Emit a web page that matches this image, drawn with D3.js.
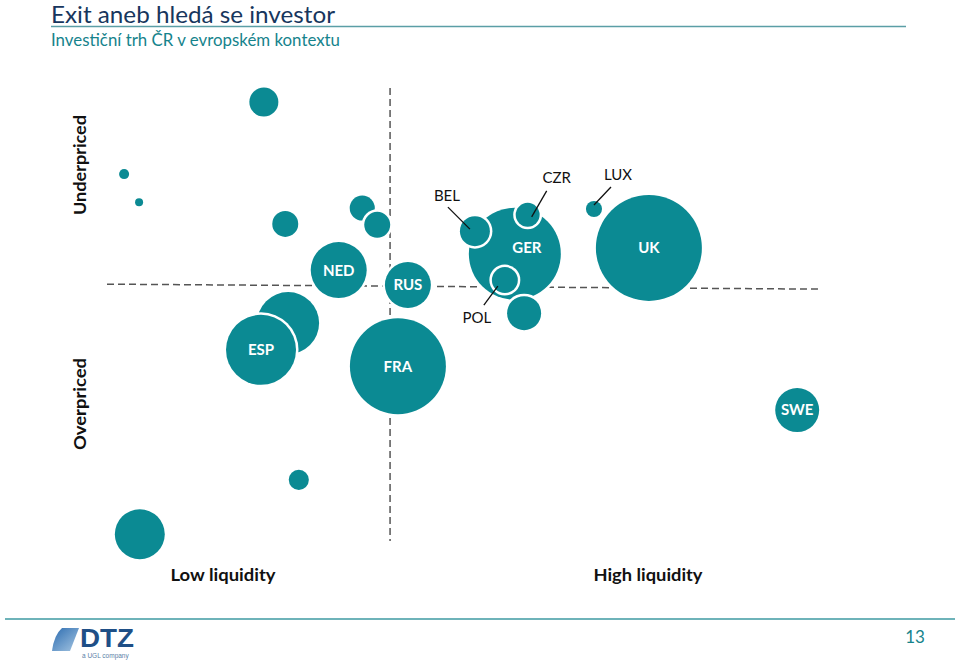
<!DOCTYPE html>
<html>
<head>
<meta charset="utf-8">
<script src="https://cdn.jsdelivr.net/npm/d3@7/dist/d3.min.js"></script>
<style>
  html, body { margin: 0; padding: 0; background: #fff; }
  svg { display: block; }
</style>
</head>
<body>
<svg id="chart" width="960" height="661"></svg>
<script>
// ---- Data ----
const countries = ["", "", "", "", "", "", "NED", "RUS", "", "ESP", "FRA", "GER", "BEL", "CZR", "POL", "", "LUX", "UK", "SWE", "", ""];
const liquidity = [22.0, 2.4, 4.5, 25.0, 35.8, 37.9, 32.5, 42.2, 25.4, 21.6, 40.8, 57.2, 51.6, 59.0, 55.8, 58.5, 68.3, 76.0, 96.8, 26.9, 4.6];
const pricing   = [96.9, 81.0, 74.8, 70.0, 73.5, 69.8, 59.8, 56.5, 48.1, 42.2, 38.6, 63.4, 68.4, 72.0, 57.6, 50.3, 73.3, 64.7, 28.9, 13.5, 1.5];
const marketSize = [7.5, 0.9, 0.57, 6.0, 5.6, 6.0, 27.9, 18.8, 34.2, 43.6, 82, 75.3, 8.0, 5.1, 6.0, 10.3, 2.3, 100, 17.2, 3.6, 22.2];
const insideLabels = ["NED", "RUS", "ESP", "FRA", "GER", "UK", "SWE"];
const calloutLabels = ["BEL", "CZR", "LUX", "POL"];
const quadrantX = 39.7;   // liquidity divider
const quadrantY = [56.7, 55.6]; // pricing divider (left end, right end)
const axisLabels = { yTop: "Underpriced", yBottom: "Overpriced", xLeft: "Low liquidity", xRight: "High liquidity" };
const titleText = "Exit aneb hledá se investor";
const subtitleText = "Investiční trh ČR v evropském kontextu";
const pageNumber = "13";

// ---- Scales ----
const teal = "#0b8a93";
const svg = d3.select("#chart");
const x = d3.scaleLinear().domain([0, 100]).range([107, 820]);
const y = d3.scaleLinear().domain([0, 100]).range([541, 88]);
const r = d3.scaleSqrt().domain([0, 100]).range([0, 53]);

const data = countries.map((c, i) => ({ name: c, lx: liquidity[i], py: pricing[i], s: marketSize[i] }));

// ---- Header ----
svg.append("text").attr("x", 51).attr("y", 23)
  .attr("font-family", "Lato, 'Open Sans', sans-serif").attr("font-size", 24)
  .attr("fill", "#17365d").attr("textLength", 284).attr("lengthAdjust", "spacingAndGlyphs")
  .text(titleText);
svg.append("line").attr("x1", 51).attr("x2", 906).attr("y1", 26.5).attr("y2", 26.5)
  .attr("stroke", "#5b9ea6").attr("stroke-width", 1.5);
svg.append("text").attr("x", 51).attr("y", 46)
  .attr("font-family", "Lato, 'Open Sans', sans-serif").attr("font-size", 18)
  .attr("fill", "#15838c").attr("textLength", 289).attr("lengthAdjust", "spacingAndGlyphs")
  .text(subtitleText);

// ---- Quadrant dividers ----
const dash = "7,4";
svg.append("line")
  .attr("x1", x(0)).attr("x2", x(100))
  .attr("y1", y(quadrantY[0])).attr("y2", y(quadrantY[1]))
  .attr("stroke", "#555").attr("stroke-width", 1.5).attr("stroke-dasharray", dash);
svg.append("line")
  .attr("x1", x(quadrantX)).attr("x2", x(quadrantX))
  .attr("y1", y(100)).attr("y2", y(0))
  .attr("stroke", "#555").attr("stroke-width", 1.5).attr("stroke-dasharray", dash);

// ---- Bubbles (white halo under each bubble gives the gaps where they overlap) ----
const g = svg.append("g");
const bubbles = g.selectAll("g.b").data(data).join("g").attr("class", "b");
bubbles.append("circle")
  .attr("cx", d => x(d.lx)).attr("cy", d => y(d.py)).attr("r", d => r(d.s) + 2.5)
  .attr("fill", "#fff");
bubbles.append("circle")
  .attr("cx", d => x(d.lx)).attr("cy", d => y(d.py)).attr("r", d => r(d.s))
  .attr("fill", teal);

// labels inside bubbles
const labelShift = { GER: [12, -6] };
svg.selectAll("text.inside").data(data.filter(d => insideLabels.includes(d.name))).join("text")
  .attr("class", "inside")
  .attr("x", d => x(d.lx) + (labelShift[d.name] ? labelShift[d.name][0] : 0))
  .attr("y", d => y(d.py) + (labelShift[d.name] ? labelShift[d.name][1] : 0))
  .attr("dy", "0.36em").attr("text-anchor", "middle")
  .attr("font-family", "Lato, 'Open Sans', sans-serif").attr("font-weight", 700).attr("font-size", 15)
  .attr("fill", "#fff")
  .text(d => d.name);

// callout labels with leader lines
const callouts = {
  BEL: { tx: -28, ty: -36, l1: [-27, -24], l2: [-5, -2] },
  CZR: { tx: 29, ty: -37, l1: [19, -24], l2: [4, 2] },
  LUX: { tx: 24, ty: -34, l1: [17, -22], l2: [0, -4] },
  POL: { tx: -28, ty: 38, l1: [-21, 25], l2: [-7, 6] }
};
const cData = data.filter(d => calloutLabels.includes(d.name));
svg.selectAll("line.leader").data(cData).join("line")
  .attr("class", "leader")
  .attr("x1", d => x(d.lx) + callouts[d.name].l1[0]).attr("y1", d => y(d.py) + callouts[d.name].l1[1])
  .attr("x2", d => x(d.lx) + callouts[d.name].l2[0]).attr("y2", d => y(d.py) + callouts[d.name].l2[1])
  .attr("stroke", "#111").attr("stroke-width", 1.3);
svg.selectAll("text.callout").data(cData).join("text")
  .attr("class", "callout")
  .attr("x", d => x(d.lx) + callouts[d.name].tx)
  .attr("y", d => y(d.py) + callouts[d.name].ty)
  .attr("dy", "0.36em").attr("text-anchor", "middle")
  .attr("font-family", "Lato, 'Open Sans', sans-serif").attr("font-size", 15)
  .attr("fill", "#111")
  .text(d => d.name);

// ---- Axis labels ----
const axFont = "Lato, 'Open Sans', sans-serif";
svg.append("text").attr("transform", "translate(86,165) rotate(-90)")
  .attr("text-anchor", "middle").attr("font-family", axFont).attr("font-weight", 700).attr("font-size", 17)
  .attr("fill", "#111").attr("textLength", 100).attr("lengthAdjust", "spacingAndGlyphs").text(axisLabels.yTop);
svg.append("text").attr("transform", "translate(86,404) rotate(-90)")
  .attr("text-anchor", "middle").attr("font-family", axFont).attr("font-weight", 700).attr("font-size", 17)
  .attr("fill", "#111").attr("textLength", 92).attr("lengthAdjust", "spacingAndGlyphs").text(axisLabels.yBottom);
svg.append("text").attr("x", 223).attr("y", 581)
  .attr("text-anchor", "middle").attr("font-family", axFont).attr("font-weight", 700).attr("font-size", 17)
  .attr("fill", "#111").attr("textLength", 105).attr("lengthAdjust", "spacingAndGlyphs").text(axisLabels.xLeft);
svg.append("text").attr("x", 648).attr("y", 581)
  .attr("text-anchor", "middle").attr("font-family", axFont).attr("font-weight", 700).attr("font-size", 17)
  .attr("fill", "#111").attr("textLength", 109).attr("lengthAdjust", "spacingAndGlyphs").text(axisLabels.xRight);

// ---- Footer ----
svg.append("line").attr("x1", 5).attr("x2", 955).attr("y1", 619).attr("y2", 619)
  .attr("stroke", "#3e9aa2").attr("stroke-width", 1.5);
svg.append("text").attr("x", 915).attr("y", 643).attr("text-anchor", "middle")
  .attr("font-family", "Lato, 'Open Sans', sans-serif").attr("font-size", 17).attr("fill", "#15838c")
  .text(pageNumber);

// DTZ logo
const defs = svg.append("defs");
const grad = defs.append("linearGradient").attr("id", "lg").attr("x1", "0").attr("y1", "0").attr("x2", "1").attr("y2", "1");
grad.append("stop").attr("offset", "0").attr("stop-color", "#2c6cb0");
grad.append("stop").attr("offset", "1").attr("stop-color", "#a7c7e3");
svg.append("path")
  .attr("d", "M62,628 L79,628 L70,651 L52,651 Q54,635 62,628 Z")
  .attr("fill", "url(#lg)");
svg.append("text").attr("x", 80).attr("y", 647)
  .attr("font-family", "'Liberation Sans', Arial, sans-serif").attr("font-weight", 700).attr("font-size", 26)
  .attr("fill", "#1f4f86").attr("textLength", 54).attr("lengthAdjust", "spacingAndGlyphs").text("DTZ");
svg.append("text").attr("x", 82).attr("y", 657.5)
  .attr("font-family", "'Liberation Sans', Arial, sans-serif").attr("font-size", 6.5)
  .attr("fill", "#5a7fa8").text("a UGL company");
</script>
</body>
</html>
